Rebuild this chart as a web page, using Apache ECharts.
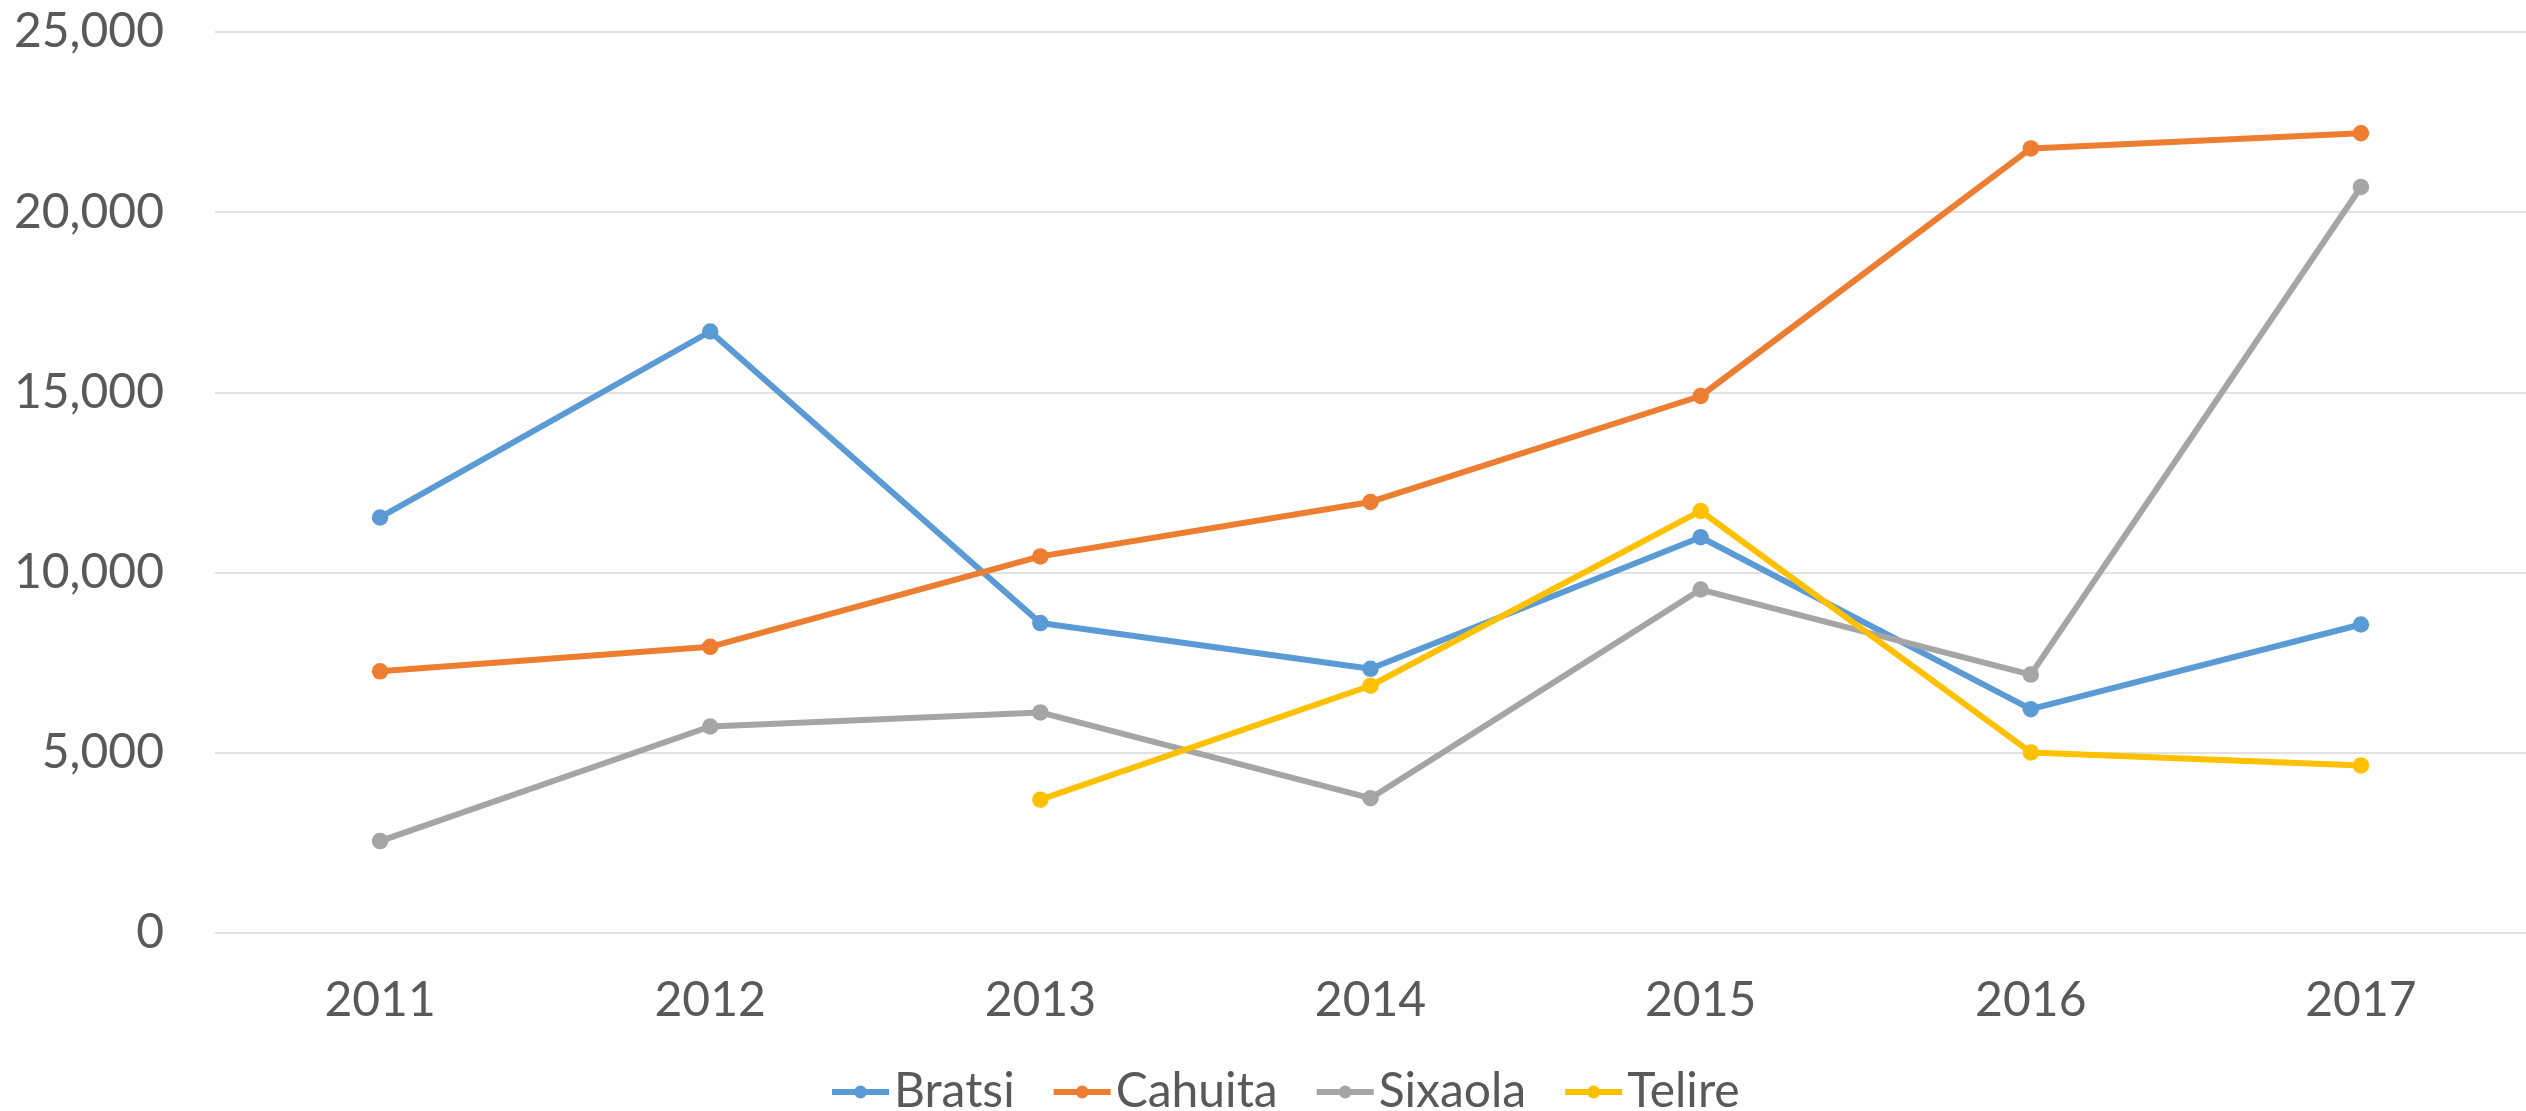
<!DOCTYPE html>
<html>
<head>
<meta charset="utf-8">
<script src="https://cdn.jsdelivr.net/npm/echarts@6/dist/echarts.min.js"></script>
<style>
  html, body { margin: 0; padding: 0; background: #ffffff; }
  #chart { width: 2526px; height: 1111px; }
</style>
</head>
<body>
<div id="chart"></div>
<script>
const YEARS = ["2011", "2012", "2013", "2014", "2015", "2016", "2017"];

const BRATSI = [11530, 16690, 8600, 7330, 10980, 6210, 8560];
const CAHUITA = [7260, 7940, 10450, 11960, 14900, 21770, 22190];
const SIXAOLA = [2550, 5730, 6120, 3740, 9530, 7170, 20700];
const TELIRE = [null, null, 3700, 6860, 11710, 5010, 4650];

const Y_MIN = 0;
const Y_MAX = 25000;
const Y_STEP = 5000;

const TEXT_COLOR = "#595959";
const FONT = "Lato, 'Open Sans', sans-serif";

const mkSeries = (name, data, color) => ({
  name,
  type: "line",
  data,
  symbol: "circle",
  symbolSize: 16.5,
  lineStyle: { width: 6, color },
  itemStyle: { color },
  connectNulls: false,
  animation: false
});

const chart = echarts.init(document.getElementById("chart"));

chart.setOption({
  backgroundColor: "#ffffff",
  textStyle: { fontFamily: FONT },
  grid: { left: 215, top: 32, width: 2316, height: 901 },
  legend: {
    top: 1063,
    left: 824,
    itemWidth: 57,
    itemHeight: 16,
    itemGap: 36,
    lineStyle: { width: 6 },
    textStyle: { color: TEXT_COLOR, fontSize: 48, fontFamily: FONT },
    data: ["Bratsi", "Cahuita", "Sixaola", "Telire"]
  },
  xAxis: {
    type: "category",
    data: YEARS,
    boundaryGap: true,
    axisLine: { show: false },
    axisTick: { show: false },
    axisLabel: { color: TEXT_COLOR, fontSize: 48, margin: 44, fontFamily: FONT }
  },
  yAxis: {
    type: "value",
    min: Y_MIN,
    max: Y_MAX,
    interval: Y_STEP,
    axisLine: { show: false },
    axisTick: { show: false },
    splitLine: { lineStyle: { color: "#d9d9d9", width: 1.5 } },
    axisLabel: {
      color: TEXT_COLOR,
      fontSize: 48,
      margin: 51,
      fontFamily: FONT,
      formatter: (v) => v.toLocaleString("en-US")
    }
  },
  series: [
    mkSeries("Bratsi", BRATSI, "#5b9bd5"),
    mkSeries("Cahuita", CAHUITA, "#ed7d31"),
    mkSeries("Sixaola", SIXAOLA, "#a5a5a5"),
    mkSeries("Telire", TELIRE, "#ffc000")
  ]
});
</script>
</body>
</html>
